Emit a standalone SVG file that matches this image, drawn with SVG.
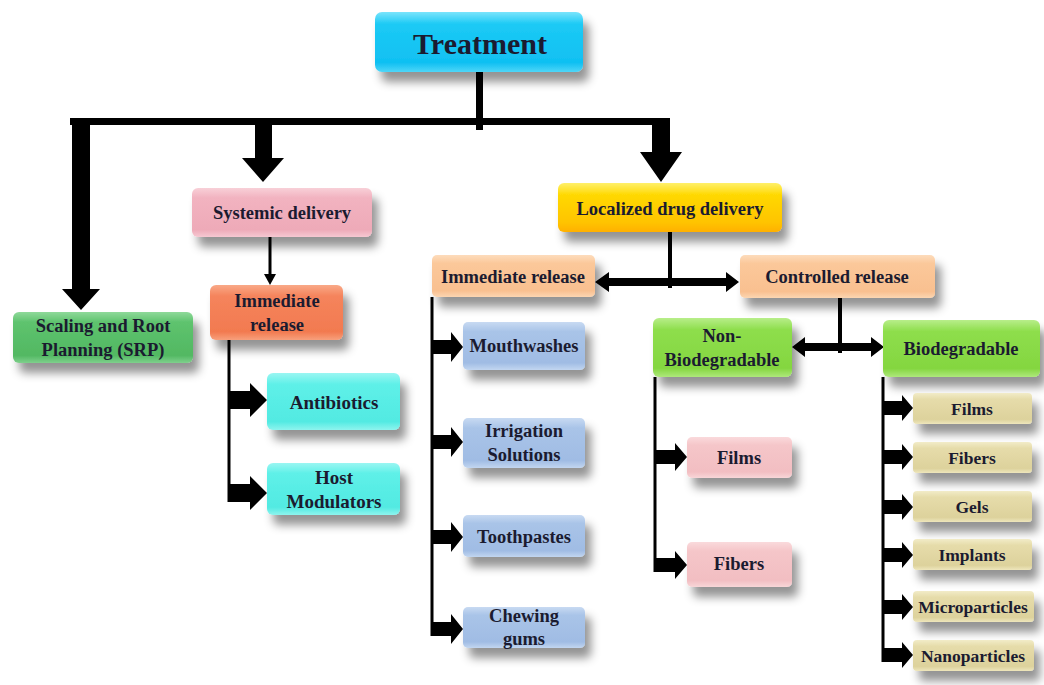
<svg xmlns="http://www.w3.org/2000/svg" width="1044" height="685" viewBox="0 0 1044 685">
<defs>
<filter id="sh" x="-20%" y="-30%" width="150%" height="200%">
<feDropShadow dx="6" dy="10" stdDeviation="5" flood-color="#000" flood-opacity="0.42"/>
</filter>
<linearGradient id="gCyan" x1="0" y1="0" x2="0" y2="1"><stop offset="0" stop-color="#7ae4fc"/><stop offset="0.2" stop-color="#1ccaf5"/><stop offset="0.85" stop-color="#10c0f2"/><stop offset="1" stop-color="#4fd6f8"/></linearGradient>
<linearGradient id="gPink" x1="0" y1="0" x2="0" y2="1"><stop offset="0" stop-color="#f8d0d8"/><stop offset="0.2" stop-color="#f2b3c0"/><stop offset="0.85" stop-color="#eeaab8"/><stop offset="1" stop-color="#f6c8d2"/></linearGradient>
<linearGradient id="gOrange" x1="0" y1="0" x2="0" y2="1"><stop offset="0" stop-color="#f9a988"/><stop offset="0.2" stop-color="#f5845c"/><stop offset="0.85" stop-color="#f27a50"/><stop offset="1" stop-color="#f7a07c"/></linearGradient>
<linearGradient id="gGreen" x1="0" y1="0" x2="0" y2="1"><stop offset="0" stop-color="#8fd99a"/><stop offset="0.2" stop-color="#5ec36e"/><stop offset="0.85" stop-color="#52b862"/><stop offset="1" stop-color="#7fd08c"/></linearGradient>
<linearGradient id="gTurq" x1="0" y1="0" x2="0" y2="1"><stop offset="0" stop-color="#9af6f2"/><stop offset="0.2" stop-color="#5ef0e8"/><stop offset="0.85" stop-color="#52eae2"/><stop offset="1" stop-color="#8ef4ee"/></linearGradient>
<linearGradient id="gYellow" x1="0" y1="0" x2="0" y2="1"><stop offset="0" stop-color="#fff06a"/><stop offset="0.25" stop-color="#ffd800"/><stop offset="0.8" stop-color="#ffc400"/><stop offset="1" stop-color="#ffb000"/></linearGradient>
<linearGradient id="gPeach" x1="0" y1="0" x2="0" y2="1"><stop offset="0" stop-color="#fddcbc"/><stop offset="0.2" stop-color="#fbc89a"/><stop offset="0.85" stop-color="#f9c090"/><stop offset="1" stop-color="#fcd6b2"/></linearGradient>
<linearGradient id="gLime" x1="0" y1="0" x2="0" y2="1"><stop offset="0" stop-color="#b8ee8a"/><stop offset="0.2" stop-color="#8ede4c"/><stop offset="0.85" stop-color="#84d640"/><stop offset="1" stop-color="#aee87c"/></linearGradient>
<linearGradient id="gBlue" x1="0" y1="0" x2="0" y2="1"><stop offset="0" stop-color="#c8daf2"/><stop offset="0.2" stop-color="#a9c4e8"/><stop offset="0.85" stop-color="#a0bce4"/><stop offset="1" stop-color="#c2d6f0"/></linearGradient>
<linearGradient id="gRose" x1="0" y1="0" x2="0" y2="1"><stop offset="0" stop-color="#fadadc"/><stop offset="0.2" stop-color="#f5c6c9"/><stop offset="0.85" stop-color="#f2bec2"/><stop offset="1" stop-color="#f8d6d8"/></linearGradient>
<linearGradient id="gKhaki" x1="0" y1="0" x2="0" y2="1"><stop offset="0" stop-color="#f2ecc8"/><stop offset="0.2" stop-color="#e6dcaa"/><stop offset="0.85" stop-color="#ddd29c"/><stop offset="1" stop-color="#eee6bc"/></linearGradient>
</defs>
<style>
.box{filter:url(#sh)}
text{font-family:"Liberation Serif","Times New Roman",serif;font-weight:bold;fill:#1b1b30;text-anchor:middle;dominant-baseline:central}
.t{font-size:18.5px}
.s{font-size:17.5px}
.big{font-size:30px}
.bl{fill:#000;stroke:none}
.ln{stroke:#000;fill:none}
</style>
<rect width="1044" height="685" fill="#fff"/>

<g id="connectors">
<rect class="bl" x="476" y="72" width="7" height="58"/>
<rect class="bl" x="70" y="118" width="600" height="7"/>
<polygon class="bl" points="72,118 90,118 90,289 100,289 81,310 62,289 72,289"/>
<polygon class="bl" points="255,122 272,122 272,158 284,158 263,182 242,158 255,158"/>
<polygon class="bl" points="652,122 670,122 670,152 682,152 661,182 640,152 652,152"/>
<line class="ln" x1="270" y1="237" x2="270" y2="276" stroke-width="3"/>
<polygon class="bl" points="264,274 276,274 270,285"/>
<line class="ln" x1="229" y1="340" x2="229" y2="502" stroke-width="3"/>
<polygon class="bl" points="228,391 250,391 250,383 267,400 250,417 250,409 228,409"/>
<polygon class="bl" points="228,484 250,484 250,476 267,493 250,510 250,502 228,502"/>
<rect class="bl" x="668" y="232" width="4" height="56"/>
<polygon class="bl" points="595,282 609,272 609,278 726,278 726,272 739,282 726,292 726,286 609,286 609,292"/>
<rect class="bl" x="838" y="298" width="4" height="55"/>
<polygon class="bl" points="792,347 805,337 805,343 871,343 871,337 884,347 871,357 871,351 805,351 805,357"/>
<line class="ln" x1="432" y1="297" x2="432" y2="636" stroke-width="3"/>
<polygon class="bl" points="431,340 451,340 451,332 463,347 451,362 451,354 431,354"/>
<polygon class="bl" points="431,435 451,435 451,427 463,442 451,457 451,449 431,449"/>
<polygon class="bl" points="431,530 451,530 451,522 463,537 451,552 451,544 431,544"/>
<polygon class="bl" points="431,622 451,622 451,614 463,629 451,644 451,636 431,636"/>
<line class="ln" x1="655" y1="377" x2="655" y2="572" stroke-width="3"/>
<polygon class="bl" points="654,450 675,450 675,443 687,457 675,471 675,464 654,464"/>
<polygon class="bl" points="654,558 675,558 675,551 687,565 675,579 675,572 654,572"/>
<line class="ln" x1="883" y1="377" x2="883" y2="662" stroke-width="3"/>
<polygon class="bl" points="882,401 902,401 902,395 913,408 902,421 902,415 882,415"/>
<polygon class="bl" points="882,450 902,450 902,444 913,457 902,470 902,464 882,464"/>
<polygon class="bl" points="882,500 902,500 902,494 913,507 902,520 902,514 882,514"/>
<polygon class="bl" points="882,548 902,548 902,542 913,555 902,568 902,562 882,562"/>
<polygon class="bl" points="882,600 902,600 902,594 913,607 902,620 902,614 882,614"/>
<polygon class="bl" points="882,648 902,648 902,642 913,655 902,668 902,662 882,662"/>
</g>

<g id="treatment"><rect class="box" x="375" y="12" width="208" height="60" rx="7" fill="url(#gCyan)"/><text class="big" x="480" y="43">Treatment</text></g>
<g id="systemic"><rect class="box" x="192" y="188" width="180" height="49" rx="6" fill="url(#gPink)"/><text class="t" x="282" y="213">Systemic delivery</text></g>
<g id="srp"><rect class="box" x="13" y="312" width="180" height="51" rx="6" fill="url(#gGreen)"/><text class="t" x="103" y="326">Scaling and Root</text><text class="t" x="103" y="350">Planning (SRP)</text></g>
<g id="immediate-left"><rect class="box" x="210" y="285" width="133" height="55" rx="6" fill="url(#gOrange)"/><text class="t" x="277" y="301">Immediate</text><text class="t" x="277" y="325">release</text></g>
<g id="antibiotics"><rect class="box" x="267" y="373" width="133" height="57" rx="6" fill="url(#gTurq)"/><text class="t" x="334" y="402" style="font-size:19px">Antibiotics</text></g>
<g id="host"><rect class="box" x="267" y="463" width="133" height="52" rx="6" fill="url(#gTurq)"/><text class="t" x="334" y="477" style="font-size:19px">Host</text><text class="t" x="334" y="501" style="font-size:19px">Modulators</text></g>
<g id="localized"><rect class="box" x="558" y="183" width="224" height="49" rx="6" fill="url(#gYellow)"/><text class="t" x="670" y="209">Localized drug delivery</text></g>
<g id="immediate-right"><rect class="box" x="432" y="255" width="163" height="42" rx="5" fill="url(#gPeach)"/><text class="t" x="513" y="277">Immediate release</text></g>
<g id="controlled"><rect class="box" x="740" y="255" width="195" height="43" rx="5" fill="url(#gPeach)"/><text class="t" x="837" y="277">Controlled release</text></g>
<g id="nonbio"><rect class="box" x="653" y="318" width="139" height="59" rx="6" fill="url(#gLime)"/><text class="t" x="722" y="336">Non-</text><text class="t" x="722" y="360">Biodegradable</text></g>
<g id="bio"><rect class="box" x="883" y="320" width="157" height="57" rx="6" fill="url(#gLime)"/><text class="t" x="961" y="349">Biodegradable</text></g>
<g id="mouthwashes"><rect class="box" x="463" y="322" width="122" height="48" rx="5" fill="url(#gBlue)"/><text class="t" x="524" y="346">Mouthwashes</text></g>
<g id="irrigation"><rect class="box" x="463" y="418" width="122" height="50" rx="5" fill="url(#gBlue)"/><text class="t" x="524" y="431">Irrigation</text><text class="t" x="524" y="455">Solutions</text></g>
<g id="toothpastes"><rect class="box" x="463" y="515" width="122" height="42" rx="5" fill="url(#gBlue)"/><text class="t" x="524" y="537">Toothpastes</text></g>
<g id="chewing"><rect class="box" x="463" y="607" width="122" height="41" rx="5" fill="url(#gBlue)"/><text class="t" x="524" y="616">Chewing</text><text class="t" x="524" y="639">gums</text></g>
<g id="nb-films"><rect class="box" x="687" y="437" width="105" height="41" rx="5" fill="url(#gRose)"/><text class="t" x="739" y="458">Films</text></g>
<g id="nb-fibers"><rect class="box" x="687" y="542" width="105" height="45" rx="5" fill="url(#gRose)"/><text class="t" x="739" y="564">Fibers</text></g>
<g id="b-films"><rect class="box" x="913" y="393" width="119" height="31" rx="4" fill="url(#gKhaki)"/><text class="s" x="972" y="409">Films</text></g>
<g id="b-fibers"><rect class="box" x="913" y="442" width="119" height="31" rx="4" fill="url(#gKhaki)"/><text class="s" x="972" y="458">Fibers</text></g>
<g id="b-gels"><rect class="box" x="913" y="491" width="119" height="31" rx="4" fill="url(#gKhaki)"/><text class="s" x="972" y="507">Gels</text></g>
<g id="b-implants"><rect class="box" x="913" y="539" width="119" height="31" rx="4" fill="url(#gKhaki)"/><text class="s" x="972" y="555">Implants</text></g>
<g id="b-micro"><rect class="box" x="913" y="591" width="121" height="31" rx="4" fill="url(#gKhaki)"/><text class="s" x="973" y="607">Microparticles</text></g>
<g id="b-nano"><rect class="box" x="913" y="640" width="121" height="31" rx="4" fill="url(#gKhaki)"/><text class="s" x="973" y="656">Nanoparticles</text></g>
</svg>
